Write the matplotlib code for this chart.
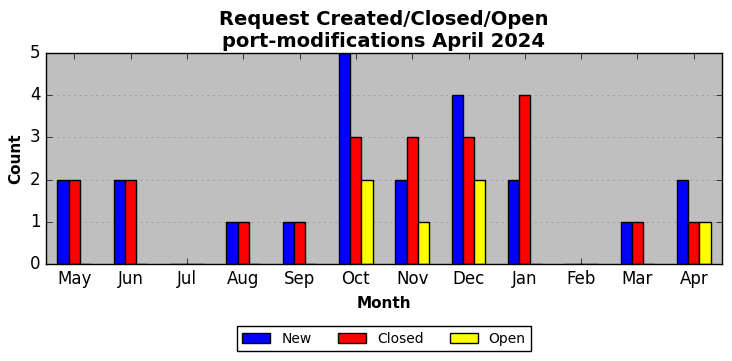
import matplotlib
matplotlib.use("Agg")
import matplotlib.pyplot as plt
import numpy as np

plt.style.use("classic")

months = ["May", "Jun", "Jul", "Aug", "Sep", "Oct", "Nov", "Dec", "Jan", "Feb", "Mar", "Apr"]
new_counts = [2, 2, 0, 1, 1, 5, 2, 4, 2, 0, 1, 2]
closed_counts = [2, 2, 0, 1, 1, 3, 3, 3, 4, 0, 1, 1]
open_counts = [0, 0, 0, 0, 0, 2, 1, 2, 0, 0, 0, 1]

x = np.arange(len(months))
w = 0.2

fig = plt.figure(figsize=(7.32, 3.61), dpi=100, facecolor="white")
ax = fig.add_axes([46 / 732, 1 - 264 / 361, 676 / 732, 211 / 361])
ax.set_facecolor("#bfbfbf")

ax.bar(x - w, new_counts, w, color="blue", edgecolor="black", label="New", align="center")
ax.bar(x, closed_counts, w, color="red", edgecolor="black", label="Closed", align="center")
ax.bar(x + w, open_counts, w, color="yellow", edgecolor="black", label="Open", align="center")

ax.set_xlim(-0.5, len(months) - 0.5)
ax.set_ylim(0, 5)
ax.set_xticks(x)
ax.set_xticklabels(months)
ax.set_yticks(range(6))
ax.tick_params(labelsize=12)
ax.yaxis.grid(True, linestyle=":", color="#808080")
ax.xaxis.grid(False)
ax.set_axisbelow(True)

ax.set_xlabel("Month", fontsize=11, fontweight="bold", labelpad=6)
ax.set_ylabel("Count", fontsize=11, fontweight="bold")
ax.set_title("Request Created/Closed/Open\nport-modifications April 2024",
             fontsize=14, fontweight="bold", linespacing=1.2, pad=4)

fig.legend(*ax.get_legend_handles_labels(), loc="lower center", ncol=3,
           bbox_to_anchor=(384 / 732, 0.008), fontsize=10, frameon=True,
           fancybox=False, columnspacing=1.9)

fig.savefig("out.png", dpi=100, facecolor="white")
